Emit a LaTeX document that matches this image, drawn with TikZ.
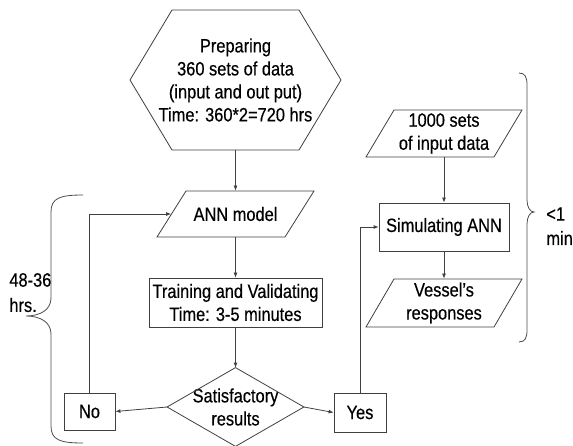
\documentclass[tikz,border=0pt]{standalone}
\usepackage{fontspec}
\setmainfont[FakeStretch=0.85,FakeBold=0.4]{Liberation Sans}
\usetikzlibrary{arrows.meta}
\begin{document}
\begin{tikzpicture}[x=1pt,y=-1pt,line width=0.8pt,
  txt/.style={font=\fontsize{19.3}{23}\selectfont,align=center,inner sep=0pt,text=black},
  lbl/.style={font=\fontsize{19.3}{24}\selectfont,inner sep=0pt,text=black,anchor=west},
  shp/.style={draw=black!75,line width=0.8pt},
  arr/.style={draw=black!75,-{Latex[length=5pt,width=4pt]}},
  brc/.style={draw=black!70,line width=0.8pt}]
\useasboundingbox (0,0) rectangle (573,446);
% nodes
\node[txt,minimum width=210,minimum height=140] (hex) at (235.5,80) {Preparing\\360 sets of data\\(input and out put)\\Time: 360*2=720 hrs};
\draw[shp] (172,10) -- (299,10) -- (341,80) -- (299,150) -- (172,150) -- (130,80) -- cycle;
\node[txt,minimum width=128,minimum height=46] (ann) at (235.5,214) {ANN model};
\draw[shp] (157,237) -- (186,191) -- (314,191) -- (285,237) -- cycle;
\node[txt,shp,minimum width=173,minimum height=49] (train) at (235.5,302.5) {Training and Validating\\Time: 3-5 minutes};
\node[txt,minimum width=136,minimum height=78] (sat) at (235.5,407) {Satisfactory\\results};
\draw[shp] (sat.north) -- (sat.east) -- (sat.south) -- (sat.west) -- cycle;
\node[txt,shp,minimum width=51,minimum height=37] (no) at (89.5,411.5) {No};
\node[txt,shp,minimum width=52,minimum height=39] (yes) at (360,412.5) {Yes};
\node[txt,shp,minimum width=130,minimum height=48] (sim) at (444,227) {Simulating ANN};
\node[txt,minimum width=128,minimum height=47] (inp) at (444,133.5) {1000 sets\\of input data};
\draw[shp] (366,157) -- (394,110) -- (522,110) -- (494,157) -- cycle;
\node[txt,minimum width=128,minimum height=48] (ves) at (444,303) {Vessel{\char"0027}s\\responses};
\draw[shp] (366,327) -- (394,279) -- (522,279) -- (494,327) -- cycle;
% connectors
\draw[arr] (hex.south) -- (ann.north);
\draw[arr] (ann.south) -- (train.north);
\draw[arr] (train.south) -- (sat.north);
\draw[arr] (sat.west) -- (no.east);
\draw[arr] (sat.east) -- (yes.west);
\draw[arr] (no.north) |- (ann.west);
\draw[arr] (yes.north) |- (sim.west);
\draw[arr] (inp.south) -- (sim.north);
\draw[arr] (sim.south) -- (ves.north);
% braces
\draw[brc] (83,195) .. controls (60,195) and (51,198) .. (51,212) -- (51,298) .. controls (51,310) and (40,316) .. (26,316) .. controls (40,316) and (51,322) .. (51,334) -- (51,426) .. controls (51,440) and (60,443) .. (83,443);
\draw[brc] (519,73) .. controls (525,73) and (527,77) .. (527,85) -- (527,200) .. controls (527,207) and (530,212) .. (534,212) .. controls (530,212) and (527,217) .. (527,224) -- (527,330) .. controls (527,338) and (525,342) .. (519,342);
% labels
\node[lbl] (t1) at (9,280) {48-36};
\node[lbl] (t2) at (9,305) {hrs.};
\node[lbl] (t3) at (546,214) {<1};
\node[lbl] (t4) at (546,238) {min};
\end{tikzpicture}
\end{document}
